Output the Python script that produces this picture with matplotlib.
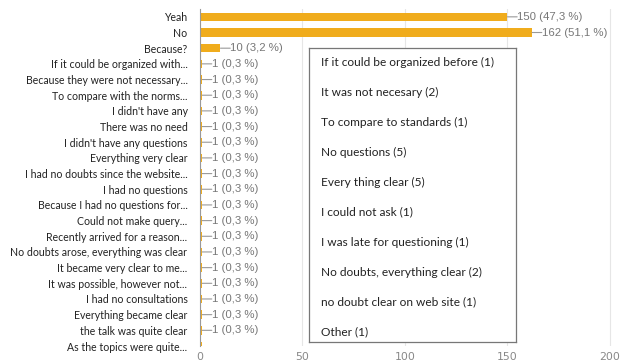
import matplotlib
matplotlib.use("Agg")
import matplotlib.pyplot as plt

# answers (top to bottom) and counts
labels = ["Yeah", "No", "Because?",
          "If it could be organized with...",
          "Because they were not necessary...",
          "To compare with the norms...",
          "I didn't have any",
          "There was no need",
          "I didn't have any questions",
          "Everything very clear",
          "I had no doubts since the website...",
          "I had no questions",
          "Because I had no questions for...",
          "Could not make query...",
          "Recently arrived for a reason...",
          "No doubts arose, everything was clear",
          "It became very clear to me...",
          "It was possible, however not...",
          "I had no consultations",
          "Everything became clear",
          "the talk was quite clear",
          "As the topics were quite..."]
counts = [150, 162, 10] + [1] * 19
pcts = ["47,3", "51,1", "3,2"] + ["0,3"] * 19

# summary box
summary = ["If it could be organized before (1)",
           "It was not necesary (2)",
           "To compare to standards (1)",
           "No questions (5)",
           "Every thing clear (5)",
           "I could not ask (1)",
           "I was late for questioning (1)",
           "No doubts, everything clear (2)",
           "no doubt clear on web site (1)",
           "Other (1)"]

bar_color = "#F0AC1C"

fig = plt.figure(figsize=(6.33, 3.63), dpi=100)
ax = fig.add_axes([200 / 633, 1 - 346 / 363, 412 / 633, 337 / 363])

y = list(range(len(labels)))
ax.barh(y, counts, height=0.55, color=bar_color)
ax.set_ylim(20.5, -0.5)
ax.set_xlim(0, 201)
ax.set_yticks(y)
ax.set_yticklabels(labels, fontsize=7.6, family="Lato", color="#222222")
for t in ax.get_yticklabels():
    t.set_clip_on(False)
ax.set_xticks([0, 50, 100, 150, 200])
ax.tick_params(axis="x", length=0, labelsize=7.8, labelcolor="#888888", pad=4)
ax.tick_params(axis="y", length=0, pad=9)
ax.grid(axis="x", color="#e6e6e6", lw=0.8)
ax.set_axisbelow(True)
for s in ["top", "right", "bottom"]:
    ax.spines[s].set_visible(False)
ax.spines["left"].set_color("#999999")
ax.spines["left"].set_linewidth(0.8)

for i, (c, p) in enumerate(zip(counts, pcts)):
    if i > 20:
        continue
    ax.annotate("%d (%s %%)" % (c, p), xy=(c, i), xytext=(7, 0),
                textcoords="offset points", ha="left", va="center",
                fontsize=8.2, color="#777777", family="Liberation Sans",
                arrowprops=dict(arrowstyle="-", color="#999999", lw=0.8,
                                relpos=(0, 0.5), shrinkA=0, shrinkB=0,
                                patchA=None))

# text box with grouped answers
box = fig.add_axes([309 / 633, 1 - 342 / 363, 207 / 633, 294 / 363])
box.set_xticks([])
box.set_yticks([])
box.patch.set_facecolor("white")
for s in box.spines.values():
    s.set_color("#777777")
    s.set_linewidth(0.9)
for k, s in enumerate(summary):
    box.text(12 / 207, 1 - (14 + 30 * k) / 294, s, transform=box.transAxes,
             ha="left", va="center", fontsize=8.6, family="Lato",
             color="#222222")

fig.savefig("out.png", dpi=100)
